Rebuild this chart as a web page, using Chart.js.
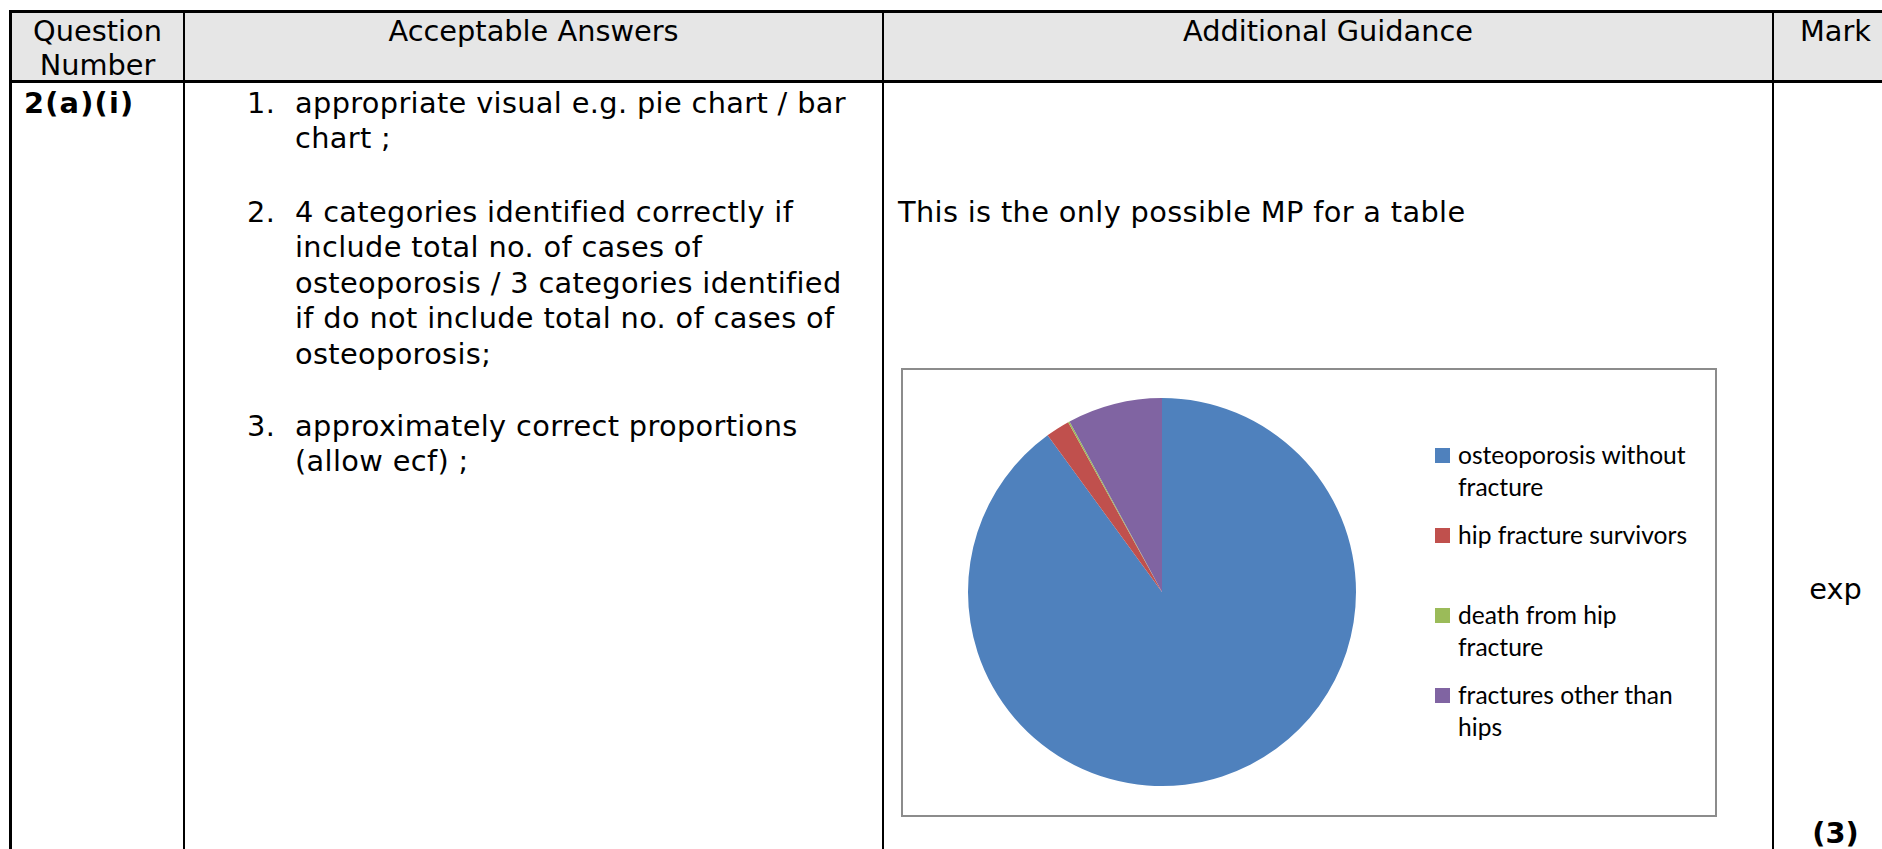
<!DOCTYPE html>
<html>
<head>
<meta charset="utf-8">
<script src="https://cdn.jsdelivr.net/npm/chart.js@4.4.0/dist/chart.umd.min.js"></script>
<style>
  html, body { margin: 0; padding: 0; background: #fff; }
  body { width: 1882px; height: 849px; overflow: hidden; position: relative;
         font-family: "DejaVu Sans", Verdana, sans-serif; color: #000; }
  .ln { position: absolute; background: #000; }
  .t { position: absolute; font-size: 28.8px; line-height: 35.4px; white-space: nowrap; letter-spacing: 0.35px; }
  .hd { position: absolute; font-size: 28.8px; line-height: 33.6px; text-align: center; white-space: nowrap; }
  .num { position: absolute; left: 0; }
  .box { position: absolute; left: 901px; top: 368px; width: 812px; height: 445px;
         border: 2px solid #8c8c8c; }
  #pie { position: absolute; left: 962px; top: 392px; }
  #legend { position: absolute; left: 1435px; top: 439px; width: 270px;
            font-family: Lato, "Open Sans", sans-serif; font-size: 24.6px; }
  .li { position: relative; height: 80px; line-height: 32px; padding-left: 23px; width: 240px; }
  .sw { position: absolute; left: 0; top: 9px; width: 15px; height: 15px; }
</style>
</head>
<body>
<!-- en-tete gris -->
<div style="position:absolute;left:9px;top:10px;width:1873px;height:72px;background:#e6e6e6"></div>

<div class="ln" style="left:9px;top:10px;width:1873px;height:3px"></div>
<div class="ln" style="left:9px;top:80px;width:1873px;height:3px"></div>
<div class="ln" style="left:9px;top:10px;width:3px;height:839px"></div>
<div class="ln" style="left:183px;top:10px;width:2px;height:839px"></div>
<div class="ln" style="left:882px;top:10px;width:2px;height:839px"></div>
<div class="ln" style="left:1772px;top:10px;width:2px;height:839px"></div>

<div class="hd" style="left:12px;width:171px;top:15px">Question<br>Number</div>
<div class="hd" style="left:185px;width:697px;top:15px">Acceptable Answers</div>
<div class="hd" style="left:884px;width:888px;top:15px">Additional Guidance</div>
<div class="hd" style="left:1774px;width:123px;top:15px">Mark</div>

<div class="t" style="left:24px;top:86px;font-weight:bold;letter-spacing:1.2px">2(a)(i)</div>

<div class="t" style="left:295px;top:86px"><span class="num" style="left:-48px">1.</span>appropriate visual e.g. pie chart / bar<br>chart ;</div>
<div class="t" style="left:295px;top:195px"><span class="num" style="left:-48px">2.</span>4 categories identified correctly if<br>include total no. of cases of<br>osteoporosis / 3 categories identified<br>if do not include total no. of cases of<br>osteoporosis;</div>
<div class="t" style="left:295px;top:409px"><span class="num" style="left:-48px">3.</span>approximately correct proportions<br>(allow ecf) ;</div>

<div class="t" style="left:898px;top:195px">This is the only possible MP for a table</div>

<div class="hd" style="left:1774px;width:123px;top:572px;line-height:35px">exp</div>
<div class="hd" style="left:1774px;width:123px;top:816px;line-height:35px;font-weight:bold">(3)</div>

<div class="box"></div>
<canvas id="pie" width="400" height="400"></canvas>
<div id="legend"></div>

<script>
const categories = ["osteoporosis without fracture", "hip fracture survivors", "death from hip fracture", "fractures other than hips"];
const valeurs = [89.9, 2.0, 0.13, 7.9];
const couleurs = ["#4F81BD", "#C0504D", "#9BBB59", "#8064A2"];

const chart = new Chart(document.getElementById("pie"), {
  type: "pie",
  data: {
    labels: categories,
    datasets: [{
      data: valeurs,
      backgroundColor: couleurs,
      borderWidth: 0
    }]
  },
  options: {
    responsive: false,
    animation: false,
    layout: { padding: 6 },
    plugins: {
      legend: { display: false },
      tooltip: { enabled: false }
    }
  }
});

// légende HTML à partir des données du graphique
const leg = document.getElementById("legend");
chart.data.labels.forEach((lab, i) => {
  const item = document.createElement("div");
  item.className = "li";
  item.innerHTML = '<span class="sw" style="background:' + chart.data.datasets[0].backgroundColor[i] + '"></span>' + lab;
  leg.appendChild(item);
});
</script>
</body>
</html>
